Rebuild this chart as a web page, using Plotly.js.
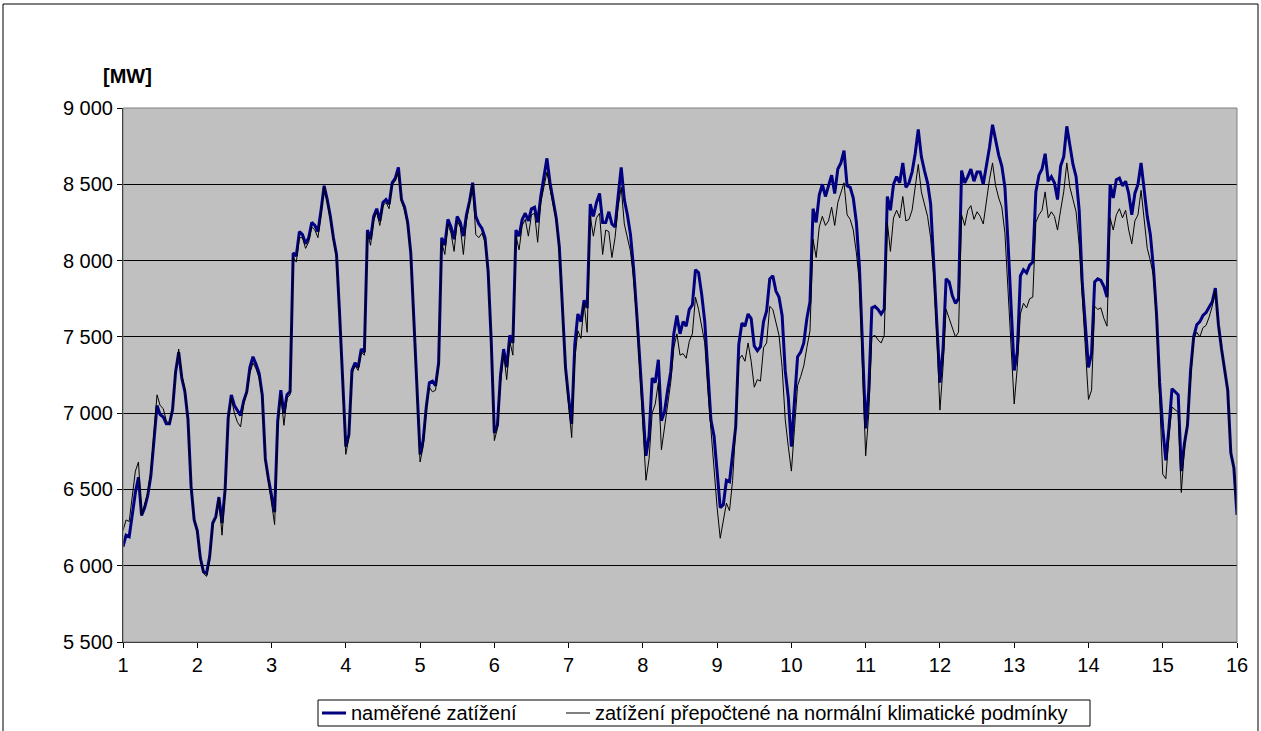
<!DOCTYPE html>
<html>
<head>
<meta charset="utf-8">
<script src="https://cdn.plot.ly/plotly-3.0.1.min.js"></script>
<style>html,body{margin:0;padding:0;background:#fff;}#chart{width:1261px;height:731px;}</style>
</head>
<body>
<div id="chart"></div>
<script>
// Hourly load values, 15 days (day 1 .. day 16), 24 readings per day + final point
const measured = [
  // day 1
  6125,6200,6190,6350,6480,6580,6330,6380,6460,6590,6850,7050,6990,6975,6930,6930,7020,7270,7400,7230,7140,6960,6520,6300,
  // day 2
  6230,6050,5960,5950,6060,6280,6322,6450,6280,6500,6970,7120,7050,7020,6985,7080,7140,7300,7370,7320,7260,7120,6700,6570,
  // day 3
  6450,6350,6950,7150,7000,7120,7141,8050,8030,8190,8170,8110,8150,8250,8230,8190,8330,8490,8400,8290,8150,8040,7650,7250,
  // day 4
  6780,6860,7280,7330,7300,7420,7400,8200,8140,8290,8340,8260,8380,8400,8370,8510,8540,8610,8400,8350,8250,8050,7600,7200,
  // day 5
  6730,6820,7040,7200,7210,7180,7330,8150,8100,8270,8220,8140,8290,8250,8160,8300,8390,8510,8290,8240,8210,8150,7930,7470,
  // day 6
  6870,6920,7250,7420,7300,7510,7460,8200,8160,8270,8310,8260,8340,8350,8250,8420,8540,8670,8510,8390,8280,8090,7700,7300,
  // day 7
  7100,6930,7450,7650,7600,7740,7690,8370,8290,8380,8440,8250,8250,8320,8240,8220,8420,8610,8400,8300,8170,7950,7660,7330,
  // day 8
  7000,6720,6850,7230,7200,7350,6950,7010,7150,7270,7520,7640,7520,7600,7570,7680,7710,7940,7920,7780,7600,7300,6955,6850,
  // day 9
  6600,6380,6400,6560,6550,6750,6910,7450,7590,7570,7650,7620,7440,7410,7436,7600,7670,7880,7900,7800,7760,7640,7280,7100,
  // day 10
  6780,7080,7370,7400,7460,7620,7730,8340,8250,8430,8500,8420,8490,8560,8440,8600,8640,8720,8490,8480,8410,8250,7950,7420,
  // day 11
  6900,7150,7690,7700,7680,7650,7680,8420,8330,8500,8550,8510,8640,8480,8510,8580,8700,8860,8680,8590,8510,8370,8000,7600,
  // day 12
  7200,7420,7880,7860,7770,7720,7750,8590,8510,8550,8600,8520,8580,8580,8500,8620,8740,8890,8780,8690,8620,8480,8120,7690,
  // day 13
  7280,7400,7900,7940,7920,7970,7990,8450,8560,8600,8700,8520,8550,8510,8400,8620,8680,8880,8750,8630,8550,8330,7850,7600,
  // day 14
  7300,7390,7860,7880,7870,7830,7760,8500,8410,8530,8540,8490,8520,8440,8300,8440,8500,8640,8460,8290,8170,7950,7650,7200,
  // day 15
  6900,6690,6900,7160,7140,7120,6620,6800,6920,7280,7500,7580,7600,7640,7660,7700,7730,7820,7580,7420,7270,7150,6740,6640,
  // day 16
  6333
];

const normalized = [
  // day 1
  6230,6300,6290,6450,6620,6680,6330,6400,6480,6620,6900,7120,7050,7030,6950,6930,7030,7270,7420,7250,7160,6960,6530,6300,
  // day 2
  6220,6040,5950,5930,6030,6270,6310,6440,6200,6480,6950,7100,7000,6940,6910,7060,7130,7260,7330,7290,7230,7100,6690,6560,
  // day 3
  6430,6270,6900,7120,6920,7100,7120,8020,7990,8150,8150,8080,8120,8220,8200,8150,8300,8480,8380,8270,8130,8020,7640,7230,
  // day 4
  6730,6840,7260,7310,7280,7400,7380,8180,8100,8260,8320,8230,8360,8380,8340,8500,8520,8580,8390,8330,8230,8030,7590,7180,
  // day 5
  6680,6780,7020,7170,7140,7150,7310,8120,8040,8240,8180,8060,8260,8220,8040,8260,8370,8500,8170,8150,8180,8120,7910,7450,
  // day 6
  6820,6900,7200,7390,7220,7470,7380,8160,8070,8230,8270,8160,8300,8310,8120,8380,8480,8580,8470,8360,8260,8070,7680,7280,
  // day 7
  7050,6840,7350,7540,7490,7720,7530,8290,8160,8280,8310,8040,8200,8190,8020,8150,8350,8480,8240,8150,8060,7880,7620,7280,
  // day 8
  6950,6560,6700,7000,7060,7200,6760,6900,7050,7200,7430,7520,7380,7390,7360,7470,7520,7760,7680,7560,7460,7150,6890,6620,
  // day 9
  6380,6180,6300,6410,6360,6560,6900,7350,7380,7340,7460,7340,7170,7220,7210,7430,7460,7700,7680,7600,7510,7300,6960,6780,
  // day 10
  6620,6900,7180,7240,7310,7430,7540,8140,8020,8220,8290,8230,8260,8350,8230,8380,8450,8510,8300,8270,8200,8050,7850,7250,
  // day 11
  6720,7000,7500,7510,7480,7460,7510,8250,8060,8280,8330,8280,8420,8260,8270,8330,8470,8630,8450,8360,8290,8150,7900,7500,
  // day 12
  7020,7300,7680,7620,7560,7500,7530,8300,8230,8330,8360,8270,8320,8290,8240,8400,8530,8640,8490,8410,8350,8180,7830,7470,
  // day 13
  7060,7300,7650,7720,7690,7750,7760,8250,8300,8330,8450,8280,8320,8290,8200,8330,8450,8640,8480,8400,8320,8100,7750,7480,
  // day 14
  7090,7150,7700,7680,7690,7620,7570,8280,8200,8300,8340,8280,8330,8200,8110,8260,8300,8460,8250,8080,8000,7900,7600,7150,
  // day 15
  6600,6570,6850,7040,7020,7005,6480,6760,6950,7250,7490,7530,7500,7560,7575,7630,7700,7800,7570,7420,7270,7150,6740,6640,
  // day 16
  6333
];

const dayTicks = [1,2,3,4,5,6,7,8,9,10,11,12,13,14,15,16];
const yTickVals = [5500,6000,6500,7000,7500,8000,8500,9000];
const yTickText = ["5 500","6 000","6 500","7 000","7 500","8 000","8 500","9 000"];
const seriesNames = ["naměřené zatížení","zatížení přepočtené na normální klimatické podmínky"];
const seriesColors = ["#000080", "#000000"];
const seriesWidths = [3, 1];
const unitLabel = "[MW]";

const hoursPerDay = 24;
const xs = measured.map((_, i) => 1 + i / hoursPerDay);

const FONT = "Liberation Sans, Arial, sans-serif";
const FS = 20;

const traces = [
  {x: xs, y: measured, type: "scatter", mode: "lines", name: seriesNames[0],
   line: {color: seriesColors[0], width: seriesWidths[0]}},
  {x: xs, y: normalized, type: "scatter", mode: "lines", name: seriesNames[1],
   line: {color: seriesColors[1], width: seriesWidths[1]}}
];

// helpers: figure pixel -> paper coords (plot area: x 123..1237, y 108..642)
const PL = 123, PR = 1237, PT = 108, PB = 642;
const px = v => (v - PL) / (PR - PL);
const py = v => (PB - v) / (PB - PT);

// custom legend (box, samples, labels)
const legTop = 700, legBot = 726, legMid = 713;
const legendShapes = [
  {type: "rect", xref: "paper", yref: "paper", x0: px(318), x1: px(1090), y0: py(legBot), y1: py(legTop),
   line: {color: "#000", width: 1}, fillcolor: "#ffffff"},
  {type: "line", xref: "paper", yref: "paper", x0: px(322), x1: px(346), y0: py(legMid), y1: py(legMid),
   line: {color: seriesColors[0], width: seriesWidths[0]}},
  {type: "line", xref: "paper", yref: "paper", x0: px(566), x1: px(590), y0: py(legMid), y1: py(legMid),
   line: {color: seriesColors[1], width: seriesWidths[1]}}
];
const legendLabels = [
  {text: seriesNames[0], xref: "paper", yref: "paper", x: px(349), y: py(legMid),
   xanchor: "left", yanchor: "middle", showarrow: false, font: {family: FONT, size: FS, color: "#000"}},
  {text: seriesNames[1], xref: "paper", yref: "paper", x: px(593), y: py(legMid),
   xanchor: "left", yanchor: "middle", showarrow: false, font: {family: FONT, size: FS, color: "#000"}}
];

const layout = {
  width: 1261, height: 731,
  paper_bgcolor: "#ffffff",
  plot_bgcolor: "#C0C0C0",
  margin: {l: PL, r: 1261 - PR, t: PT, b: 731 - PB, pad: 0},
  font: {family: FONT, size: FS, color: "#000"},
  showlegend: false,
  xaxis: {
    range: [1, 16], tickmode: "array", tickvals: dayTicks,
    ticks: "outside", ticklen: 5, tickcolor: "#000", tickwidth: 1,
    showline: true, linecolor: "#000", linewidth: 1,
    showgrid: false, zeroline: false, automargin: false,
    tickfont: {family: FONT, size: FS, color: "#000"}
  },
  yaxis: {
    range: [5500, 9000], tickmode: "array", tickvals: yTickVals, ticktext: yTickText,
    ticks: "outside", ticklen: 5, tickcolor: "#000", tickwidth: 1,
    showline: true, linecolor: "#000", linewidth: 1,
    showgrid: true, gridcolor: "#000", gridwidth: 1,
    zeroline: false, automargin: false,
    tickfont: {family: FONT, size: FS, color: "#000"}
  },
  annotations: [
    {text: "<b>" + unitLabel + "</b>", xref: "paper", yref: "paper",
     x: px(127), y: py(76), xanchor: "center", yanchor: "middle", showarrow: false,
     font: {family: FONT, size: FS, color: "#000"}}
  ].concat(legendLabels),
  shapes: [
    {type: "rect", xref: "paper", yref: "paper", x0: 0, x1: 1, y0: 0, y1: 1,
     line: {color: "#808080", width: 1}, fillcolor: "rgba(0,0,0,0)", layer: "above"},
    {type: "rect", xref: "paper", yref: "paper", x0: px(3), x1: px(1258), y0: py(740), y1: py(4),
     line: {color: "#000", width: 1}, fillcolor: "rgba(0,0,0,0)"}
  ].concat(legendShapes)
};

Plotly.newPlot("chart", traces, layout, {displayModeBar: false, staticPlot: true});
</script>
</body>
</html>
